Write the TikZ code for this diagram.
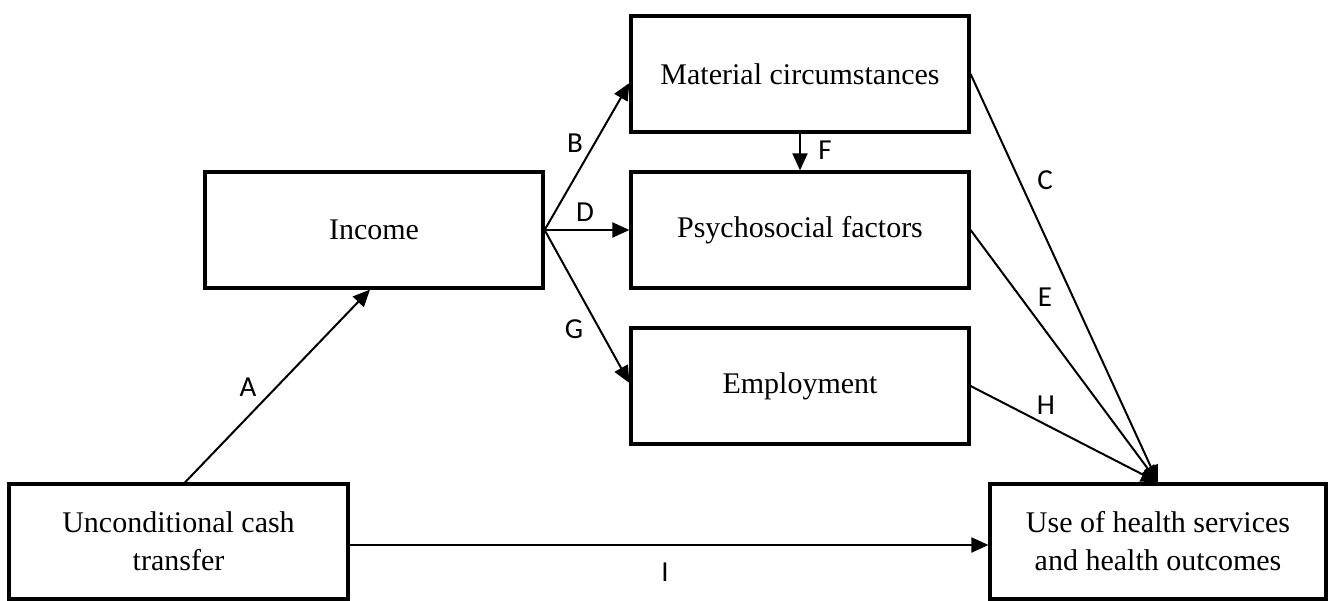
\documentclass[tikz,border=0pt]{standalone}
\usepackage{fontspec}
\setmainfont{Liberation Serif}
\newfontfamily\lblfont{Carlito}
\usetikzlibrary{arrows.meta}
\begin{document}
\begin{tikzpicture}[x=1pt,y=-1pt,
  box/.style={draw,line width=3.2pt,rectangle,inner sep=0pt,minimum width=338pt,minimum height=116pt,align=center,font=\fontsize{30}{38}\selectfont},
  arr/.style={line width=2pt,-{Triangle[length=17pt,width=15pt]}},
  lbl/.style={inner sep=0pt,font=\lblfont\fontsize{29}{29}\selectfont}]
\useasboundingbox (0,0) rectangle (1328,601);
\node[box] (inc) at (374,230) {Income};
\node[box] (mat) at (800,74) {Material circumstances};
\node[box] (psy) at (800,230) {Psychosocial factors};
\node[box] (emp) at (800,386) {Employment};
\node[box,minimum width=339pt,minimum height=115pt] (uct) at (178.5,541.5) {Unconditional cash\\transfer};
\node[box,minimum width=336pt,minimum height=115pt] (use) at (1158,541.5) {Use of health services\\and health outcomes};
\draw[arr] ([xshift=6.5pt]uct.north) -- ([xshift=-4pt]inc.south);
\draw[arr] (inc.east) -- ([yshift=-9pt]mat.west);
\draw[arr] (inc.east) -- (psy.west);
\draw[arr] (inc.east) -- ([yshift=3pt]emp.west);
\draw[arr] (mat.south) -- (psy.north);
\draw[arr] (mat.east) -- (use.north);
\draw[arr] (psy.east) -- (use.north);
\draw[arr] (emp.east) -- (use.north);
\draw[arr] ([yshift=-3.5pt]uct.east) -- ([yshift=-3.5pt]use.west);
\node[lbl] (lA) at (248,387) {A};
\node[lbl] (lB) at (575,143) {B};
\node[lbl] (lD) at (585,212) {D};
\node[lbl] (lG) at (574,329) {G};
\node[lbl] (lF) at (825,150) {F};
\node[lbl] (lC) at (1045,180) {C};
\node[lbl] (lE) at (1045,297) {E};
\node[lbl] (lH) at (1046,405) {H};
\node[lbl] (lI) at (665,572) {I};
\end{tikzpicture}
\end{document}
